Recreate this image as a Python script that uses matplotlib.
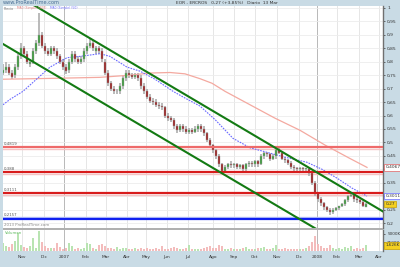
import numpy as np
import matplotlib
matplotlib.use("Agg")
import matplotlib.pyplot as plt
from matplotlib.patches import Rectangle
import matplotlib.transforms as mtrans

# ---------------- data ----------------
opens = [0.76,0.77,0.78,0.76,0.75,0.78,0.82,0.85,0.83,0.79,0.80,0.84,0.87,0.90,0.86,0.84,0.83,0.85,0.84,0.82,
         0.80,0.78,0.77,0.80,0.83,0.81,0.80,0.81,0.84,0.86,0.87,0.84,0.85,0.84,0.80,0.76,0.72,0.70,0.69,0.69,
         0.71,0.74,0.76,0.75,0.745,0.75,0.74,0.71,0.69,0.67,0.655,0.65,0.64,0.635,0.63,0.60,0.59,0.585,0.56,0.545,
         0.56,0.55,0.54,0.545,0.54,0.55,0.56,0.55,0.535,0.51,0.49,0.47,0.45,0.42,0.395,0.41,0.42,0.415,0.42,0.41,
         0.415,0.40,0.42,0.425,0.42,0.43,0.42,0.45,0.46,0.455,0.44,0.45,0.47,0.46,0.44,0.435,0.425,0.41,0.405,0.40,
         0.405,0.40,0.40,0.385,0.35,0.31,0.29,0.275,0.26,0.25,0.24,0.25,0.255,0.265,0.27,0.285,0.30,0.305,0.29,0.285,
         0.28,0.26]
closes = [0.77,0.78,0.76,0.745,0.78,0.82,0.85,0.83,0.80,0.80,0.84,0.87,0.90,0.86,0.84,0.83,0.85,0.84,0.82,0.80,
          0.78,0.765,0.80,0.83,0.81,0.80,0.81,0.84,0.86,0.87,0.85,0.85,0.84,0.81,0.76,0.72,0.70,0.69,0.69,0.71,
          0.74,0.76,0.75,0.745,0.75,0.74,0.71,0.69,0.67,0.655,0.65,0.64,0.635,0.63,0.60,0.59,0.585,0.56,0.545,0.56,
          0.55,0.54,0.545,0.54,0.55,0.56,0.55,0.535,0.51,0.49,0.47,0.45,0.42,0.395,0.41,0.42,0.415,0.42,0.41,0.415,
          0.40,0.42,0.425,0.42,0.43,0.42,0.45,0.46,0.455,0.44,0.45,0.47,0.46,0.44,0.435,0.425,0.41,0.405,0.40,0.405,
          0.40,0.40,0.385,0.35,0.31,0.29,0.275,0.26,0.25,0.24,0.25,0.255,0.265,0.27,0.285,0.30,0.305,0.29,0.285,0.28,
          0.265,0.27]
highs = [0.79,0.80,0.79,0.77,0.79,0.83,0.87,0.86,0.84,0.81,0.85,0.88,0.98,0.91,0.87,0.85,0.86,0.86,0.85,0.83,
         0.81,0.79,0.81,0.84,0.84,0.82,0.82,0.85,0.87,0.89,0.88,0.86,0.86,0.85,0.81,0.77,0.73,0.71,0.70,0.72,
         0.75,0.77,0.77,0.76,0.76,0.76,0.75,0.72,0.70,0.68,0.665,0.66,0.65,0.645,0.635,0.61,0.60,0.59,0.57,0.57,
         0.57,0.56,0.555,0.555,0.56,0.57,0.57,0.56,0.54,0.515,0.495,0.475,0.455,0.425,0.415,0.425,0.43,0.425,0.425,0.42,
         0.42,0.425,0.43,0.43,0.435,0.435,0.455,0.465,0.465,0.46,0.455,0.475,0.48,0.465,0.445,0.44,0.43,0.415,0.41,0.41,
         0.41,0.405,0.405,0.39,0.355,0.315,0.295,0.28,0.265,0.255,0.255,0.26,0.265,0.275,0.29,0.305,0.31,0.31,0.30,0.29,
         0.285,0.275]
lows = [0.75,0.76,0.75,0.737,0.74,0.77,0.81,0.82,0.79,0.78,0.79,0.83,0.86,0.85,0.83,0.82,0.82,0.83,0.81,0.79,
        0.77,0.755,0.76,0.79,0.80,0.79,0.79,0.80,0.83,0.85,0.84,0.83,0.83,0.80,0.75,0.71,0.69,0.68,0.68,0.68,
        0.70,0.73,0.74,0.735,0.735,0.73,0.70,0.68,0.66,0.645,0.64,0.63,0.625,0.62,0.59,0.58,0.575,0.55,0.535,0.54,
        0.54,0.53,0.53,0.53,0.535,0.54,0.54,0.525,0.50,0.48,0.46,0.44,0.41,0.385,0.39,0.40,0.405,0.405,0.40,0.40,
        0.395,0.395,0.41,0.41,0.41,0.41,0.415,0.44,0.445,0.43,0.435,0.44,0.455,0.435,0.425,0.415,0.40,0.395,0.39,0.395,
        0.39,0.39,0.375,0.34,0.30,0.28,0.265,0.25,0.24,0.23,0.235,0.245,0.25,0.26,0.265,0.28,0.295,0.28,0.275,0.27,
        0.26,0.26]
volume_k = [2400,1500,1200,2000,3000,5300,1800,1200,900,1500,3800,1000,6000,2500,1400,800,1000,900,2400,1200,
            700,900,2400,1500,600,800,600,900,2400,2000,800,600,1800,2200,1500,1000,900,700,1200,600,
            900,1000,600,500,800,700,900,600,800,700,500,900,600,1500,700,600,800,1200,800,600,
            500,900,1800,700,600,500,700,1000,1200,1500,900,1000,1800,1400,700,600,900,500,700,600,
            800,1200,500,700,600,800,1000,1200,600,700,900,1800,700,600,800,500,700,600,500,700,
            600,900,1500,2500,4400,2000,1500,900,1000,1800,800,700,1000,600,1200,900,1500,700,800,600,
            900,1626]

# moving averages (sampled values)
ma200_x = [3, 50, 100, 130, 150, 170, 185, 200, 212, 225, 250, 275, 300, 325, 350, 367]
ma200_v = [0.735, 0.738, 0.742, 0.75, 0.758, 0.76, 0.755, 0.737, 0.72, 0.69, 0.64, 0.59, 0.545, 0.49, 0.44, 0.407]
ma50_x = [3, 10, 23, 35, 50, 67, 80, 100, 110, 127, 140, 155, 173, 185, 200, 215, 233, 250, 267, 285, 307, 322, 337, 352, 367]
ma50_v = [0.64, 0.66, 0.69, 0.73, 0.78, 0.815, 0.82, 0.83, 0.82, 0.78, 0.765, 0.735, 0.69, 0.665, 0.635, 0.585,
          0.515, 0.48, 0.463, 0.445, 0.426, 0.40, 0.367, 0.33, 0.30]

# channel trend lines
upper_x = [33, 384]
upper_v = [1.0126, 0.2407]
lower_x = [0, 317]
lower_v = [0.8726, 0.1763]

red_levels = [0.4819, 0.388, 0.3111]
red_level_labels = ["0,4819", "0,388", "0,3111"]
blue_level = 0.2157
blue_level_label = "0,2157"

month_pos = [22, 44, 64, 86, 106, 127, 146, 167, 188, 213, 234, 255, 277, 299, 317, 337, 359, 379]
month_labels = ["Nov", "Dic", "2007", "Feb", "Mar", "Abr", "May", "Jun", "Jul", "Ago", "Sep", "Oct",
                "Nov", "Dic", "2008", "Feb", "Mar", "Abr"]
year_pos = [64, 317]

price_ticks = [1.0, 0.95, 0.9, 0.85, 0.8, 0.75, 0.7, 0.65, 0.6, 0.55, 0.5, 0.45, 0.4, 0.35, 0.3, 0.25, 0.2]
hidden_ticks = [0.4, 0.3]   # covered by the value tags

# ---------------- figure ----------------
W, H = 400, 267
BG = '#c9dbe5'
fig = plt.figure(figsize=(W / 100, H / 100), dpi=100, facecolor=BG)

def box(x0, y0, x1, y1):
    return [x0 / W, 1 - y1 / H, (x1 - x0) / W, (y1 - y0) / H]

ax = fig.add_axes(box(3, 6, 383, 228))
vax = fig.add_axes(box(3, 230, 383, 251))
fig.patches.append(Rectangle((3 / W, 1 - 230 / H), 380 / W, 2 / H, transform=fig.transFigure,
                             facecolor='#b0b0b0', edgecolor='none'))

xs = np.arange(3, 3 + 3 * len(closes), 3)
o = np.array(opens); c = np.array(closes); h = np.array(highs); l = np.array(lows)
up = c >= o

for a in (ax, vax):
    a.set_facecolor('white')
    a.set_xlim(3, 383)
    for s in ('top', 'left', 'bottom'):
        a.spines[s].set_visible(False)
    a.spines['right'].set_color('#707070')
    a.spines['right'].set_linewidth(1.0)
    for mp in month_pos:
        col = '#b8b8b8' if mp in year_pos else '#e6e6e6'
        a.axvline(mp, color=col, lw=0.7, zorder=0)

ax.set_ylim(0.1815, 1.0074)
for t in price_ticks:
    ax.axhline(t, color='#ececec', lw=0.6, zorder=0)

# candles
ax.vlines(xs, l, h, color='#b4b4b4', lw=1.3, zorder=2)
body_col = np.where(up, '#3c9a3c', '#9a2020')
ax.bar(xs, np.maximum(np.abs(c - o), 0.003), bottom=np.minimum(o, c), width=1.4,
       color=body_col, edgecolor='#a0a0a0', linewidth=0.3, zorder=3)

# moving averages
ax.plot(ma200_x, ma200_v, color='#f4a9a0', lw=0.9, zorder=2)
ax.plot(ma50_x, ma50_v, color='#6b6bff', lw=0.8, ls=(0, (1.5, 1)), zorder=2)

# levels
for lv, lab in zip(red_levels, red_level_labels):
    ax.axhline(lv, color='#d81c1c' if lv < 0.45 else '#ee6a6a', lw=1.6, zorder=4)
    ax.axhline(lv - 0.006, color='#f6c4c4', lw=1.0, zorder=1)
    ax.text(3.5, lv + 0.004, lab, fontsize=2.8, color='#555555', va='bottom', ha='left', zorder=5)
ax.axhline(blue_level, color='#1020f0', lw=1.6, zorder=4)
ax.axhline(blue_level + 0.006, color='#b8c4f8', lw=1.0, zorder=1)
ax.text(3.5, blue_level + 0.006, blue_level_label, fontsize=2.8, color='#555555', va='bottom', ha='left', zorder=5)

# channel
ax.plot(upper_x, upper_v, color='#137a13', lw=1.5, zorder=5, clip_on=True)
ax.plot(lower_x, lower_v, color='#137a13', lw=1.5, zorder=5, clip_on=True)

# right axis
ax.yaxis.tick_right()
ax.set_yticks(price_ticks)
ax.set_yticklabels(['' if t in hidden_ticks else ('%.2f' % t).rstrip('0').rstrip('.').replace('.', ',')
                    for t in price_ticks])
ax.tick_params(axis='y', labelsize=3.2, colors='#333333', length=1.5, width=0.5, pad=1.5)
ax.set_xticks([])

tr = mtrans.blended_transform_factory(ax.transAxes, ax.transData)
def tag(val, txt, ec, fc):
    ax.text(1.006, val, txt, transform=tr, fontsize=3.2, color='#333333', va='center', ha='left',
            bbox=dict(boxstyle='square,pad=0.25', fc=fc, ec=ec, lw=0.5), clip_on=False, zorder=6)
tag(0.4067, "0,4067", '#e06060', 'white')
tag(0.3011, "0,3011", '#6b6bff', 'white')
tag(0.27, "0,27", '#c8a000', '#f4d020')

# volume
vax.set_ylim(0, 6176)
vcol = np.where(up, '#b9e4b2', '#f3bcbc')
vax.bar(xs, volume_k, width=1.4, color=vcol, edgecolor='none', zorder=2)
vax.yaxis.tick_right()
vax.set_yticks([2500, 5000])
vax.set_yticklabels(["2500K", "5000K"])
vax.tick_params(axis='y', labelsize=3.0, colors='#333333', length=1.5, width=0.5, pad=1.5)
vax.set_xticks(month_pos)
vax.set_xticklabels(month_labels)
vax.tick_params(axis='x', labelsize=3.2, colors='#333333', length=0, pad=3)
trv = mtrans.blended_transform_factory(vax.transAxes, vax.transData)
vax.text(1.006, 1626, "1,626K", transform=trv, fontsize=3.0, color='#333333', va='center', ha='left',
         bbox=dict(boxstyle='square,pad=0.25', fc='#f4d020', ec='#c8a000', lw=0.5), clip_on=False, zorder=6)
vax.text(0.005, 0.93, "Volumen", transform=vax.transAxes, fontsize=2.8, color='#5cb85c', va='top')

# header & legend texts
fig.text(3 / W, 1 - 3 / H, "www.ProRealTime.com", fontsize=3.6, color='#4a6f95', va='center', ha='left')
fig.text(176 / W, 1 - 3 / H, "EOR - ERCROS   0,27 (+3,85%)   Diario  13 Mar", fontsize=3.2,
         color='#333333', va='center', ha='left')
fig.text(4 / W, 1 - 8.5 / H, "Precio", fontsize=2.4, color='#777777', va='center')
fig.text(17 / W, 1 - 8.5 / H, "MA0 (Simple) (200)", fontsize=2.2, color='#e08080', va='center')
fig.text(50 / W, 1 - 8.5 / H, "MA0 (Simple) (50)", fontsize=2.2, color='#7070ff', va='center')
fig.text(4 / W, 1 - 225 / H, "2013 ProRealTime.com", fontsize=2.8, color='#888888', va='center')

fig.savefig("out.png", dpi=100, facecolor=BG)
